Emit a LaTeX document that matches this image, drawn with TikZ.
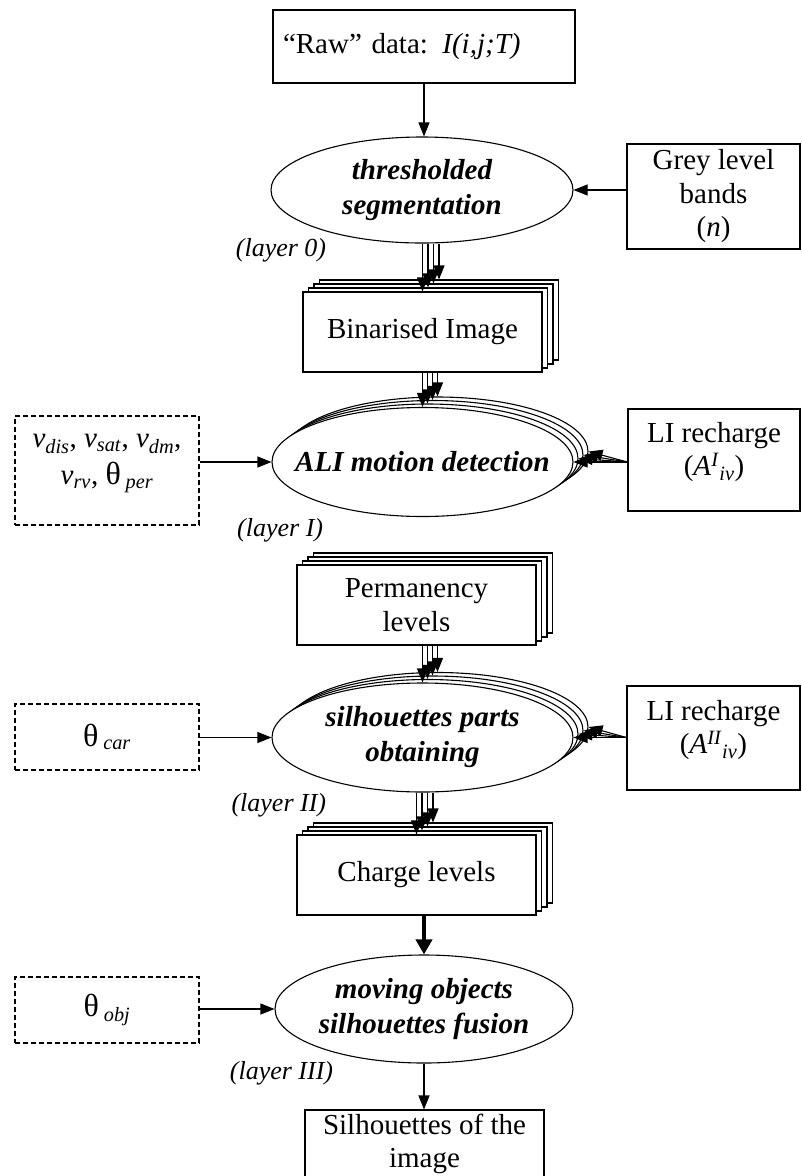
\documentclass[tikz,border=0pt]{standalone}
\usepackage{fontspec}
\setmainfont{Liberation Serif}
\usetikzlibrary{arrows.meta,shapes.geometric,positioning}

\newcommand{\vsub}[1]{\textit{v}\textsubscript{\textit{#1}}}
\newcommand{\thsub}[1]{{\fontsize{32}{34}\selectfont θ}\,\textsubscript{\textit{#1}}}

\begin{document}
\begin{tikzpicture}[x=1pt,y=-1pt,line width=1.1pt,
font=\fontsize{29}{33.5}\selectfont,
box/.style={draw,rectangle,fill=white,inner sep=0pt,align=center},
pbox/.style={draw,rectangle,dash pattern=on 5pt off 3pt,inner sep=0pt,align=center},
stack/.style={box,minimum width=239pt,minimum height=80pt},
proc/.style={draw,ellipse,fill=white,inner sep=0pt,minimum width=301pt,minimum height=109pt},
ptext/.style={align=center,font=\fontsize{29}{35}\selectfont\bfseries\itshape},
layer/.style={anchor=east,font=\fontsize{26}{30}\selectfont\itshape},
arr/.style={-{Triangle[length=14pt,width=11pt]}}]
\useasboundingbox (0,0) rectangle (802,1176);

% input and layer 0
\node (raw) [box,minimum width=302pt,minimum height=73pt,text width=282pt,align=left]
    at (424,46.5) {“Raw” data: \textit{I(i,j;T)}};
\node (seg) [proc,minimum width=302pt,minimum height=106pt,
    label={[ptext]center:{thresholded\\segmentation}}] at (422,190) {};
\node (grey) [box,minimum width=173pt,minimum height=105pt] at (713.5,196.5)
    {Grey level\\bands\\(\textit{n})};
\node [layer] at (330,250) {(layer 0)};
\draw[arr] (raw.south) -- (raw.south |- seg.north);
\draw[arr] (grey.west |- seg.east) -- (seg.east);

\foreach \i in {3,2,1}
  \node (bin\i) [stack] at (422.5+5.5*\i,332-4*\i) {};
\node (bin0) [stack] at (422.5,332) {Binarised Image};
\foreach \i in {0,...,3}
  \draw[arr] (seg.south -| bin\i.north) -- (bin\i.north);

% layer I
\foreach \i in {3,2,1}
  \node (ali\i) [proc] at (422.5+5*\i,462-3.5*\i) {};
\node (ali0) [proc,label={[ptext]center:ALI motion detection}] at (422.5,462) {};
\foreach \i in {0,...,3}
  \draw[arr] (bin0.south -| ali\i.north) -- (ali\i.north);

\node (vpar) [pbox,minimum width=184pt,minimum height=109pt,
    label={[below=15pt,align=center,font=\fontsize{29}{37}\selectfont]north:{\vsub{dis}, \vsub{sat}, \vsub{dm},\\\vsub{rv}, \thsub{per}}}]
    at (107,470.5) {};
\node (rech1) [box,minimum width=172pt,minimum height=102pt,
    label={[below=10pt,align=center]north:{LI recharge\\(\textit{A}\textsuperscript{\textit{I}}\textsubscript{\textit{iv}})}}]
    at (714,460) {};
\draw[arr] (vpar.east |- ali0.west) -- (ali0.west);
\foreach \i in {0,...,3}
  \draw[arr] (rech1.west |- ali0.east) -- (ali\i.east);
\node [layer] at (327,530) {(layer I)};

\foreach \i in {3,2,1}
  \node (perm\i) [stack] at (416.5+5.5*\i,605-4*\i) {};
\node (perm0) [stack] at (416.5,605) {Permanency\\levels};

% layer II
\foreach \i in {3,2,1}
  \node (silh\i) [proc] at (422.5+5*\i,737.5-3.5*\i) {};
\node (silh0) [proc,label={[ptext]center:{silhouettes parts\\obtaining}}] at (422.5,737.5) {};
\foreach \i in {0,...,3}
  \draw[arr] (perm0.south -| silh\i.north) -- (silh\i.north);

\node (thcar) [pbox,minimum width=184pt,minimum height=66pt] at (107,737) {\thsub{car}};
\node (rech2) [box,minimum width=173pt,minimum height=104pt,
    label={[below=11pt,align=center]north:{LI recharge\\(\textit{A}\textsuperscript{\textit{II}}\textsubscript{\textit{iv}})}}]
    at (713.5,738) {};
\draw[arr] (thcar.east |- silh0.west) -- (silh0.west);
\foreach \i in {0,...,3}
  \draw[arr] (rech2.west |- silh0.east) -- (silh\i.east);
\node [layer] at (330,805) {(layer II)};

\foreach \i in {3,2,1}
  \node (chg\i) [stack] at (416.5+5.5*\i,875-4*\i) {};
\node (chg0) [stack] at (416.5,875) {Charge levels};
\foreach \i in {0,...,3}
  \draw[arr] (silh0.south -| chg\i.north) -- (chg\i.north);

% layer III
\node (mov) [proc,minimum width=298pt,minimum height=108pt,
    label={[ptext]center:{moving objects\\silhouettes fusion}}] at (424,1009) {};
\draw[line width=4.5pt,-{Triangle[length=15pt,width=16pt]}] (chg0.south -| mov.north) -- (mov.north);
\node (thobj) [pbox,minimum width=184pt,minimum height=66pt] at (107,1010) {\thsub{obj}};
\draw[arr] (thobj.east |- mov.west) -- (mov.west);
\node [layer] at (337,1073) {(layer III)};

\node (out) [box,minimum width=239pt,minimum height=68pt] at (424.5,1144) {Silhouettes of the\\image};
\draw[arr] (mov.south) -- (mov.south |- out.north);
\end{tikzpicture}
\end{document}
